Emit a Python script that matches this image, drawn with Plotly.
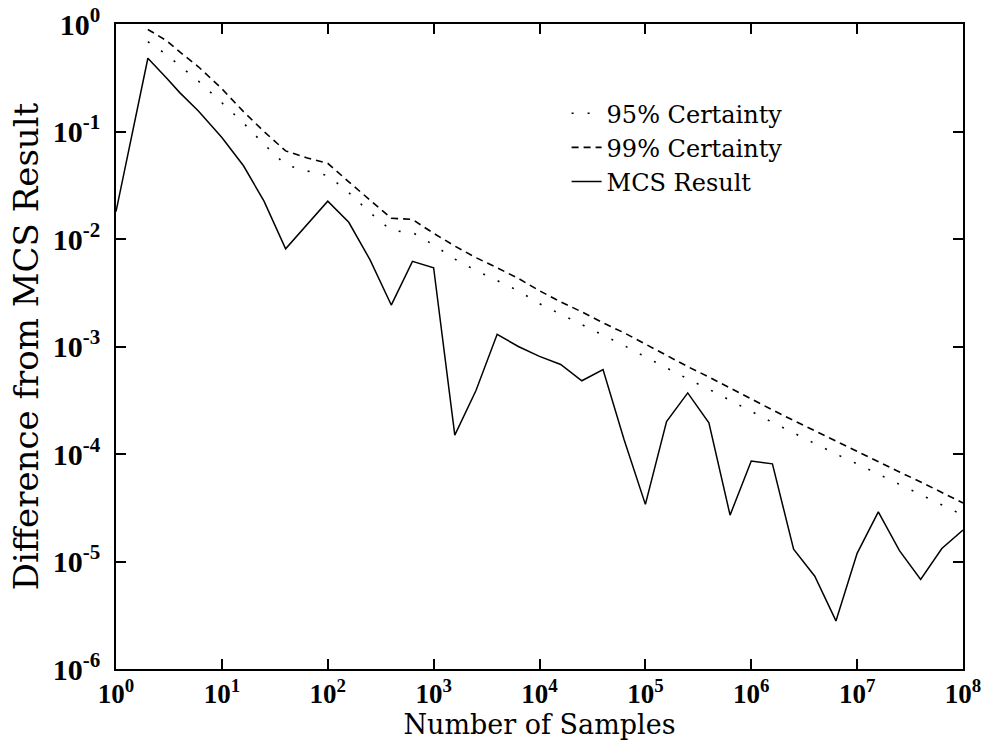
import plotly.graph_objects as go

# Number of samples (x)
samples = [1, 2, 3, 4, 6, 10, 16, 25, 40, 63, 100, 158, 251, 398, 631, 1000, 1585,
           2512, 3981, 6310, 10000, 15849, 25119, 39811, 63096, 100000, 158489,
           251189, 398107, 630957, 1000000, 1584893, 2511886, 3981072, 6309573,
           10000000, 15848932, 25118864, 39810717, 63095734, 100000000]

# MCS result difference
mcs_result = [0.018, 0.48, 0.315, 0.23, 0.155, 0.088, 0.048, 0.0225, 0.0081, 0.0135,
              0.0225, 0.0143, 0.0064, 0.00243, 0.0062, 0.0054, 0.00015, 0.00039, 0.0013,
              0.001, 0.00081, 0.00068, 0.00048, 0.00061, 0.000135, 0.000034, 0.0002,
              0.00037, 0.000195, 0.000027, 0.000086, 0.000081, 0.000013, 0.0000073,
              0.0000028, 0.0000119, 0.000029, 0.0000126, 0.0000068, 0.0000132, 0.0000196]

# 99% certainty bound
cert99 = [None, 0.89, 0.70, 0.55, 0.40, 0.25, 0.153, 0.10, 0.066, 0.057, 0.0506, 0.034,
          0.023, 0.0156, 0.0152, 0.0113, 0.0086, 0.0067, 0.0054, 0.0043, 0.0033, 0.0026,
          0.0021, 0.00166, 0.00134, 0.00105, 0.00083, 0.00065, 0.00052, 0.00041,
          0.000325, 0.000257, 0.000205, 0.000164, 0.000132, 0.000106, 0.000085,
          0.000068, 0.000055, 0.000044, 0.000035]

# 95% certainty bound
cert95 = [None, 0.685, 0.52, 0.41, 0.295, 0.185, 0.12, 0.076, 0.049, 0.043, 0.039, 0.027,
          0.0176, 0.012, 0.0115, 0.0088, 0.0065, 0.0051, 0.0041, 0.0033, 0.0025, 0.002,
          0.0016, 0.00127, 0.00102, 0.0008, 0.00063, 0.0005, 0.0004, 0.000315, 0.00025,
          0.000197, 0.000157, 0.000125, 0.0001, 0.000081, 0.000065, 0.000052, 0.000042,
          0.0000335, 0.000027]

x_exponents = [0, 1, 2, 3, 4, 5, 6, 7, 8]
y_exponents = [0, -1, -2, -3, -4, -5, -6]

x_tickvals = [10 ** e for e in x_exponents]
x_ticktext = ["<b>10<sup>%d</sup></b>" % e for e in x_exponents]
y_tickvals = [10.0 ** e for e in y_exponents]
y_ticktext = ["<b>10<sup>%d</sup></b>" % e for e in y_exponents]

serif = "DejaVu Serif"
tickserif = "Liberation Serif"

fig = go.Figure()
fig.add_trace(go.Scatter(x=samples, y=cert95, mode="lines", name="95% Certainty",
                         line=dict(color="black", width=1.6, dash="2px,14px")))
fig.add_trace(go.Scatter(x=samples, y=cert99, mode="lines", name="99% Certainty",
                         line=dict(color="black", width=1.6, dash="7px,5px")))
fig.add_trace(go.Scatter(x=samples, y=mcs_result, mode="lines", name="MCS Result",
                         line=dict(color="black", width=1.5)))

axis_common = dict(
    showgrid=False, zeroline=False, showline=True, linecolor="black", linewidth=1.5,
    mirror="ticks", ticks="inside", ticklen=10, tickwidth=1.5, tickcolor="black",
    automargin=False,
)

fig.update_xaxes(type="log", range=[0, 8], tickvals=x_tickvals, ticktext=x_ticktext,
                 tickfont=dict(family=tickserif, size=27, color="black"),
                 ticklabelstandoff=0,
                 title=dict(text="Number of Samples",
                            font=dict(family=serif, size=27, color="black"), standoff=0),
                 **axis_common)
fig.update_yaxes(type="log", range=[-6, 0], tickvals=y_tickvals, ticktext=y_ticktext,
                 tickfont=dict(family=tickserif, size=30, color="black"),
                 ticklabelstandoff=8,
                 title=dict(text="Difference from MCS Result",
                            font=dict(family=serif, size=34, color="black"), standoff=4),
                 **axis_common)

fig.update_layout(
    width=989, height=742,
    margin=dict(l=116, r=26, t=24, b=73, autoexpand=False),
    paper_bgcolor="white", plot_bgcolor="white",
    showlegend=True,
    legend=dict(x=0.532, y=0.896, xanchor="left", yanchor="top",
                bgcolor="rgba(0,0,0,0)", borderwidth=0, tracegroupgap=0,
                font=dict(family=serif, size=24, color="black")),
)

fig.write_html("out.html")
